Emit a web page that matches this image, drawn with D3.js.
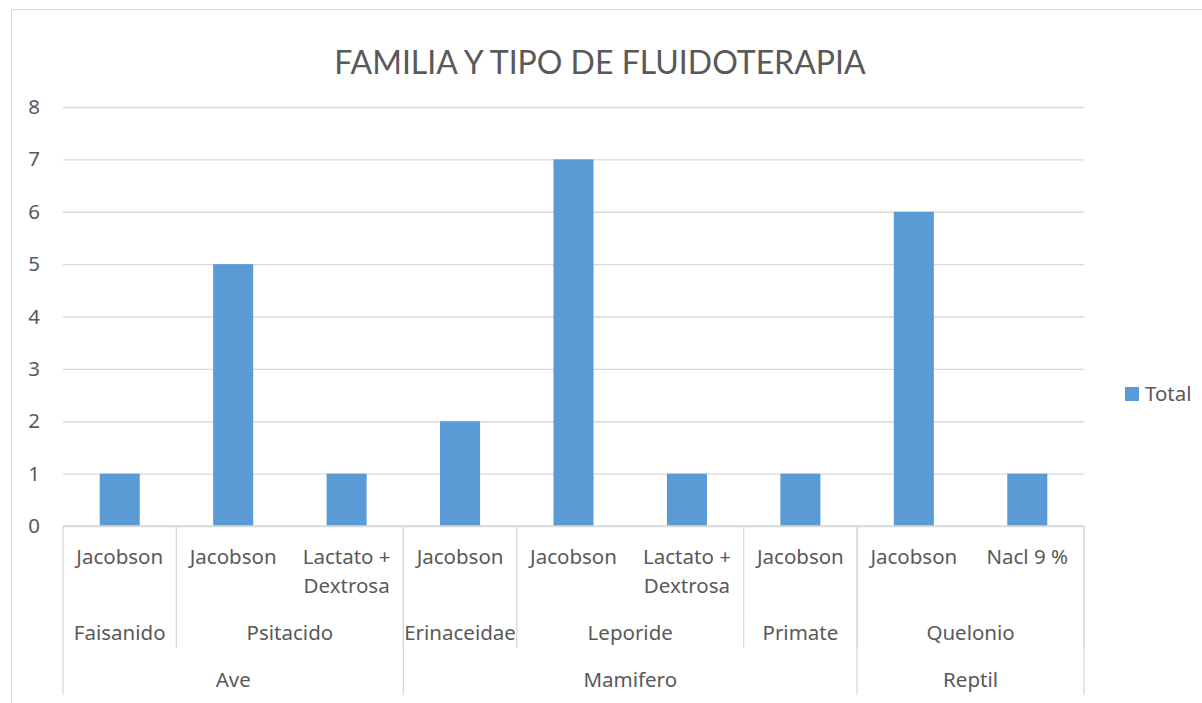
<!doctype html>
<html>
<head>
<meta charset="utf-8">
<style>
  body { margin: 0; background: #fff; }
  text { font-family: "Noto Sans", Lato, sans-serif; fill: #595959; }
</style>
<script src="https://d3js.org/d3.v7.min.js"></script>
</head>
<body>
<svg width="1202" height="703"></svg>
<script>
// data, one entry per bar
var groups   = ["Ave", "Ave", "Ave", "Mamifero", "Mamifero", "Mamifero", "Mamifero", "Reptil", "Reptil"];
var families = ["Faisanido", "Psitacido", "Psitacido", "Erinaceidae", "Leporide", "Leporide", "Primate", "Quelonio", "Quelonio"];
var fluids   = ["Jacobson", "Jacobson", "Lactato + Dextrosa", "Jacobson", "Jacobson", "Lactato + Dextrosa", "Jacobson", "Jacobson", "Nacl 9 %"];
var totals   = [1, 5, 1, 2, 7, 1, 1, 6, 1];
var yTicks   = [0, 1, 2, 3, 4, 5, 6, 7, 8];
var title    = "FAMILIA Y TIPO DE FLUIDOTERAPIA";
var seriesName = "Total";

var svg = d3.select("svg");
var plotL = 63, plotR = 1084, plotT = 107, plotB = 526;
var grid = "#d9d9d9";
var fs = "20.5px";

// chart outline
svg.append("rect")
   .attr("x", 11.5).attr("y", 9.5)
   .attr("width", 1200).attr("height", 700)
   .attr("fill", "none").attr("stroke", grid);

svg.append("text")
   .attr("x", 600).attr("y", 74)
   .attr("text-anchor", "middle")
   .attr("font-size", "32px")
   .style("font-family", "Lato, sans-serif")
   .text(title);

var idx = d3.range(totals.length);
var x = d3.scaleBand().domain(idx).range([plotL, plotR]).padding(0);
var y = d3.scaleLinear().domain([0, 8]).range([plotB, plotT]);

// gridlines + y labels
var yAxis = svg.append("g")
   .attr("transform", "translate(" + plotL + ",0)")
   .call(d3.axisLeft(y).tickValues(yTicks).tickSize(-(plotR - plotL)).tickPadding(23));
yAxis.select(".domain").remove();
yAxis.selectAll(".tick line").attr("stroke", grid).attr("stroke-width", 1.3);
yAxis.selectAll(".tick text")
   .attr("font-size", fs).attr("fill", "#595959")
   .attr("font-family", "'Noto Sans', sans-serif");

// bars
var bw = x.bandwidth() * 0.353;
svg.append("g").selectAll("rect")
   .data(idx)
   .enter().append("rect")
   .attr("x", function(i) { return x(i) + (x.bandwidth() - bw) / 2; })
   .attr("y", function(i) { return y(totals[i]); })
   .attr("width", bw)
   .attr("height", function(i) { return y(0) - y(totals[i]); })
   .attr("fill", "#5b9bd5");

// category axis
var ax = svg.append("g");
ax.append("line")
  .attr("x1", plotL).attr("x2", plotR).attr("y1", plotB).attr("y2", plotB)
  .attr("stroke", grid).attr("stroke-width", 1.3);

// leaf labels
idx.forEach(function(i) {
  var cx = x(i) + x.bandwidth() / 2;
  var words = fluids[i].split(" ");
  var lines = fluids[i].length > 10 ? [words.slice(0, 2).join(" "), words.slice(2).join(" ")] : [fluids[i]];
  var t = ax.append("text").attr("text-anchor", "middle").attr("font-size", fs);
  lines.forEach(function(l, k) {
    t.append("tspan").attr("x", cx).attr("y", 564 + k * 29).text(l);
  });
});

// spans for a level
function spans(arr, keyFn) {
  var out = [];
  idx.forEach(function(i) {
    var k = keyFn(i);
    if (out.length && out[out.length - 1].key === k) out[out.length - 1].end = i;
    else out.push({ key: k, label: arr[i], start: i, end: i });
  });
  return out;
}
var famSpans = spans(families, function(i) { return groups[i] + "|" + families[i]; });
var grpSpans = spans(groups, function(i) { return groups[i]; });

famSpans.forEach(function(s) {
  var x0 = x(s.start), x1 = x(s.end) + x.bandwidth();
  ax.append("text").attr("x", (x0 + x1) / 2).attr("y", 640)
    .attr("text-anchor", "middle").attr("font-size", fs).text(s.label);
  ax.append("line").attr("x1", x1).attr("x2", x1).attr("y1", plotB).attr("y2", 648)
    .attr("stroke", grid).attr("stroke-width", 1.3);
});
grpSpans.forEach(function(s) {
  var x0 = x(s.start), x1 = x(s.end) + x.bandwidth();
  ax.append("text").attr("x", (x0 + x1) / 2).attr("y", 687)
    .attr("text-anchor", "middle").attr("font-size", fs).text(s.label);
  ax.append("line").attr("x1", x1).attr("x2", x1).attr("y1", plotB).attr("y2", 695)
    .attr("stroke", grid).attr("stroke-width", 1.3);
});
ax.append("line").attr("x1", plotL).attr("x2", plotL).attr("y1", plotB).attr("y2", 695)
  .attr("stroke", grid).attr("stroke-width", 1.3);

// legend
svg.append("rect").attr("x", 1125).attr("y", 387).attr("width", 14).attr("height", 14).attr("fill", "#5b9bd5");
svg.append("text").attr("x", 1145).attr("y", 401).attr("font-size", fs).text(seriesName);
</script>
</body>
</html>
